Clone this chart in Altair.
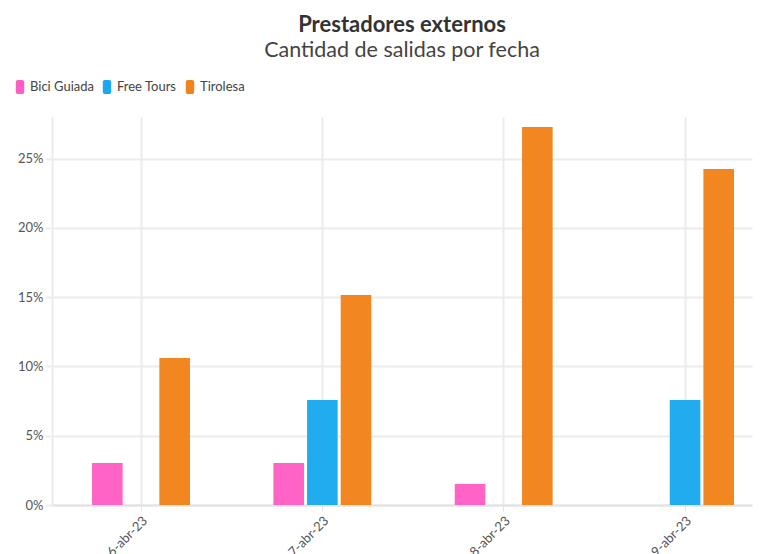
import altair as alt
import pandas as pd

fechas = ["6-abr-23", "7-abr-23", "8-abr-23", "9-abr-23"]
series = ["Bici Guiada", "Free Tours", "Tirolesa"]
bici_guiada = [0.0303, 0.0303, 0.0152, None]
free_tours = [None, 0.0758, None, 0.0758]
tirolesa = [0.1061, 0.1515, 0.2727, 0.2424]
colores = ["#ff5ec4", "#1aa9f0", "#f2821a"]

rows = []
for serie, vals in zip(series, [bici_guiada, free_tours, tirolesa]):
    for f, v in zip(fechas, vals):
        if v is not None:
            rows.append({"fecha": f, "serie": serie, "valor": v})
df = pd.DataFrame(rows)

FONT = "Lato"
rounded = ("M-0.6,-0.7 A0.3,0.3 0 0 1 -0.3,-1 L0.3,-1 A0.3,0.3 0 0 1 0.6,-0.7 "
           "L0.6,0.7 A0.3,0.3 0 0 1 0.3,1 L-0.3,1 A0.3,0.3 0 0 1 -0.6,0.7 Z")

chart = alt.Chart(df).mark_bar(opacity=0.97).encode(
    x=alt.X("fecha:N", sort=fechas, title=None,
            scale=alt.Scale(paddingInner=0.46, paddingOuter=0.16, align=0.69),
            axis=alt.Axis(labelAngle=-45, grid=True, gridColor="#ececec", gridWidth=2,
                          domainColor="#e2e2e2", domainWidth=2, tickColor="#e2e2e2",
                          tickSize=6, labelColor="#555555", labelFontSize=13,
                          labelFont=FONT, labelPadding=3)),
    xOffset=alt.XOffset("serie:N", sort=series,
                        scale=alt.Scale(paddingInner=0.09, paddingOuter=0)),
    y=alt.Y("valor:Q", title=None,
            scale=alt.Scale(domain=[0, 0.28], nice=False, zero=True),
            axis=alt.Axis(format=".0%", values=[0, 0.05, 0.1, 0.15, 0.2, 0.25],
                          gridColor="#ececec", gridWidth=2, domain=True,
                          domainColor="#ececec", domainWidth=2, tickColor="#ececec",
                          tickSize=7, tickWidth=2, labelColor="#555555", labelFontSize=13,
                          labelFont=FONT, labelPadding=2)),
    color=alt.Color("serie:N", sort=series,
                    scale=alt.Scale(domain=series, range=colores),
                    legend=alt.Legend(title=None, orient="none", direction="horizontal",
                                      legendX=-39, legendY=-37,
                                      symbolType=rounded, symbolSize=196,
                                      symbolOpacity=1, symbolStrokeWidth=0,
                                      labelFont=FONT, labelFontSize=13,
                                      labelColor="#444444", columnPadding=6,
                                      labelOffset=3)),
).properties(
    width=700,
    height=388,
    title=alt.TitleParams(text="Prestadores externos",
                          subtitle="Cantidad de salidas por fecha",
                          anchor="middle", font=FONT, fontSize=22, fontWeight="bold",
                          color="#333333", subtitleFont=FONT, subtitleFontSize=21.5,
                          subtitleColor="#444444", subtitlePadding=3, offset=18),
).configure_view(stroke=None)

chart.save("out.html", embed_options={"renderer": "svg", "actions": False})
